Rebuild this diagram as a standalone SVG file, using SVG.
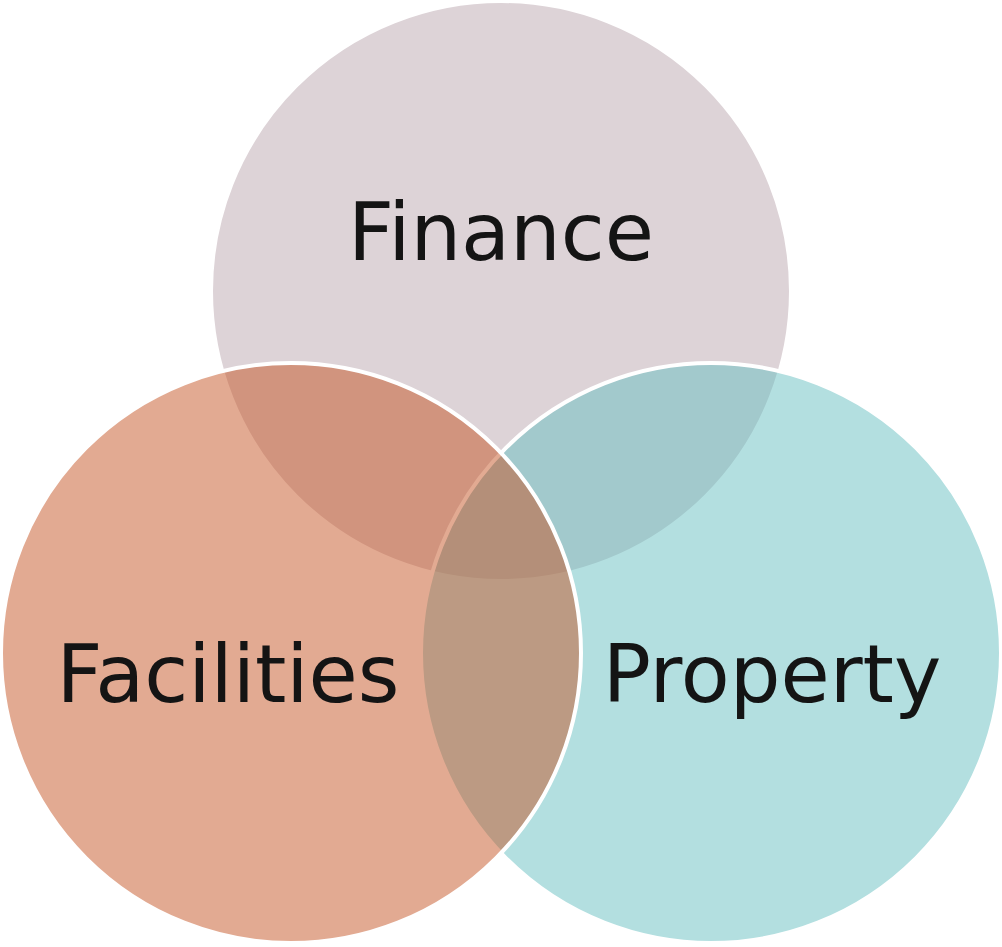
<svg xmlns="http://www.w3.org/2000/svg" width="1002" height="947" viewBox="0 0 1002 947">
<style>
.c{stroke:#ffffff;stroke-width:4;fill-opacity:0.5}
.t{font-family:"DejaVu Sans","Verdana",sans-serif;font-size:80px;fill:#141414;text-anchor:middle}
</style>
<rect width="1002" height="947" fill="#ffffff"/>
<g id="finance">
<circle class="c" cx="501" cy="291" r="290" fill="#BBA7AF"/>
</g>
<g id="property">
<circle class="c" cx="711" cy="653" r="290" fill="#67BFC1"/>
</g>
<g id="facilities">
<circle class="c" cx="291" cy="653" r="290" fill="#C55525"/>
</g>
<g id="labels">
<text class="t" x="501" y="260">Finance</text>
<text class="t" x="228" y="702">Facilities</text>
<text class="t" x="772" y="702">Property</text>
</g>
<g id="connectors"/>
</svg>
